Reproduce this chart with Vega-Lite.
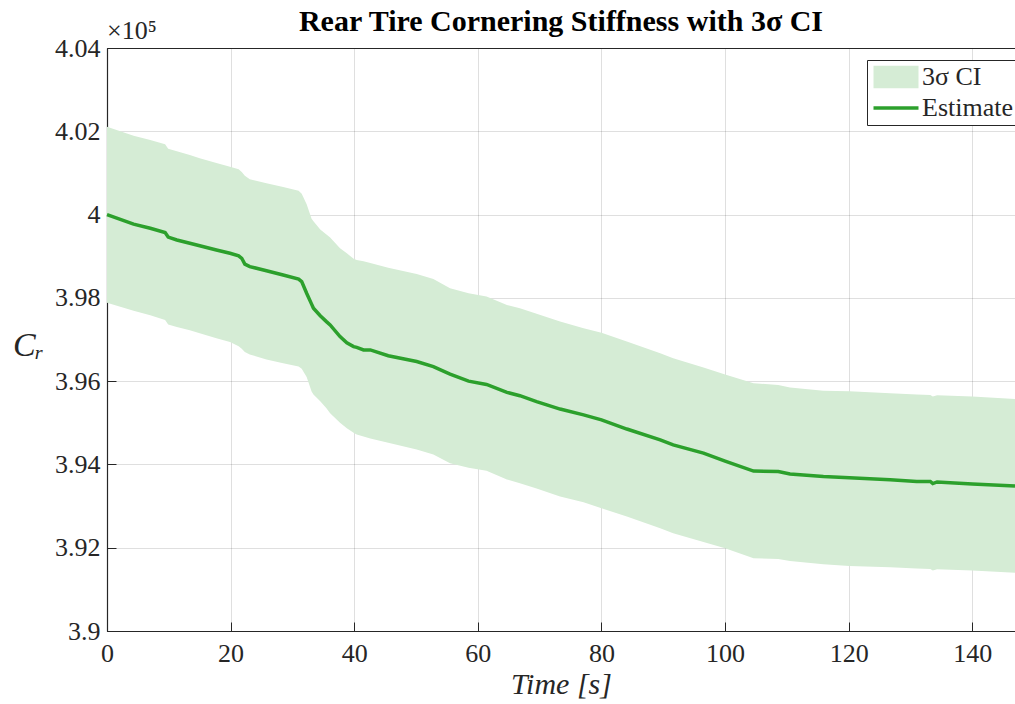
{
  "$schema": "https://vega.github.io/schema/vega-lite/v6.json",
  "width": 908,
  "height": 583,
  "autosize": {"type": "none"},
  "padding": {"left": 107, "top": 48, "right": 0, "bottom": 73},
  "background": "white",
  "config": {
    "font": "Liberation Serif",
    "view": {"stroke": "#262626", "strokeWidth": 1},
    "axis": {
      "domainColor": "#262626",
      "domainWidth": 1.2,
      "tickColor": "#262626",
      "tickSize": -9,
      "tickWidth": 1,
      "gridColor": "#262626",
      "gridOpacity": 0.15,
      "gridWidth": 1,
      "labelColor": "#262626",
      "labelFont": "Liberation Serif",
      "labelFontSize": 26,
      "titleColor": "#262626",
      "titleFont": "Liberation Serif",
      "titleFontWeight": "normal",
      "zindex": 1
    },
    "legend": {
      "labelFont": "Liberation Serif",
      "labelFontSize": 26,
      "labelColor": "#262626",
      "symbolOpacity": 1,
      "symbolStrokeWidth": 0
    }
  },
  "title": {
    "text": "Rear Tire Cornering Stiffness with 3σ CI",
    "font": "Liberation Serif",
    "fontSize": 30,
    "fontWeight": "bold",
    "color": "#000000",
    "anchor": "middle",
    "offset": 8,
    "dy": 27
  },
  "datasets": {
    "series": [
      {"t": 0, "est": 4.0000, "lo": 3.9788, "hi": 4.0211},
      {"t": 4.3, "est": 3.9977, "lo": 3.9769, "hi": 4.0189},
      {"t": 7.0, "est": 3.9967, "lo": 3.9758, "hi": 4.0179},
      {"t": 9.4, "est": 3.9957, "lo": 3.9747, "hi": 4.0169},
      {"t": 9.9, "est": 3.9946, "lo": 3.9736, "hi": 4.0158},
      {"t": 11.3, "est": 3.9939, "lo": 3.9730, "hi": 4.0152},
      {"t": 13.4, "est": 3.9931, "lo": 3.9722, "hi": 4.0143},
      {"t": 15.0, "est": 3.9925, "lo": 3.9715, "hi": 4.0135},
      {"t": 17.7, "est": 3.9915, "lo": 3.9703, "hi": 4.0124},
      {"t": 19.9, "est": 3.9907, "lo": 3.9694, "hi": 4.0115},
      {"t": 21.3, "est": 3.9901, "lo": 3.9684, "hi": 4.0109},
      {"t": 21.8, "est": 3.9895, "lo": 3.9678, "hi": 4.0102},
      {"t": 22.3, "est": 3.9881, "lo": 3.9670, "hi": 4.0093},
      {"t": 23.1, "est": 3.9875, "lo": 3.9664, "hi": 4.0085},
      {"t": 25.8, "est": 3.9865, "lo": 3.9652, "hi": 4.0075},
      {"t": 28.5, "est": 3.9855, "lo": 3.9643, "hi": 4.0066},
      {"t": 31.0, "est": 3.9845, "lo": 3.9635, "hi": 4.0057},
      {"t": 31.5, "est": 3.9839, "lo": 3.9630, "hi": 4.0050},
      {"t": 32.3, "est": 3.9811, "lo": 3.9610, "hi": 4.0025},
      {"t": 33.1, "est": 3.9785, "lo": 3.9575, "hi": 3.9990},
      {"t": 33.4, "est": 3.9775, "lo": 3.9568, "hi": 3.9984},
      {"t": 34.5, "est": 3.9757, "lo": 3.9552, "hi": 3.9964},
      {"t": 35.5, "est": 3.9743, "lo": 3.9535, "hi": 3.9952},
      {"t": 36.1, "est": 3.9735, "lo": 3.9523, "hi": 3.9945},
      {"t": 37.7, "est": 3.9707, "lo": 3.9500, "hi": 3.9919},
      {"t": 38.8, "est": 3.9692, "lo": 3.9487, "hi": 3.9907},
      {"t": 39.9, "est": 3.9683, "lo": 3.9476, "hi": 3.9894},
      {"t": 40.4, "est": 3.9681, "lo": 3.9472, "hi": 3.9891},
      {"t": 41.5, "est": 3.9675, "lo": 3.9467, "hi": 3.9888},
      {"t": 42.6, "est": 3.9675, "lo": 3.9462, "hi": 3.9884},
      {"t": 45.5, "est": 3.9661, "lo": 3.9452, "hi": 3.9872},
      {"t": 50.1, "est": 3.9647, "lo": 3.9436, "hi": 3.9857},
      {"t": 52.8, "est": 3.9635, "lo": 3.9424, "hi": 3.9845},
      {"t": 55.5, "est": 3.9617, "lo": 3.9403, "hi": 3.9823},
      {"t": 58.5, "est": 3.9600, "lo": 3.9392, "hi": 3.9811},
      {"t": 61.4, "est": 3.9592, "lo": 3.9385, "hi": 3.9803},
      {"t": 64.7, "est": 3.9573, "lo": 3.9364, "hi": 3.9783},
      {"t": 66.8, "est": 3.9565, "lo": 3.9355, "hi": 3.9775},
      {"t": 69.5, "est": 3.9551, "lo": 3.9342, "hi": 3.9762},
      {"t": 73.3, "est": 3.9533, "lo": 3.9323, "hi": 3.9743},
      {"t": 77.1, "est": 3.9519, "lo": 3.9309, "hi": 3.9727},
      {"t": 80.0, "est": 3.9507, "lo": 3.9295, "hi": 3.9716},
      {"t": 84.1, "est": 3.9485, "lo": 3.9275, "hi": 3.9695},
      {"t": 89.5, "est": 3.9459, "lo": 3.9247, "hi": 3.9667},
      {"t": 91.6, "est": 3.9447, "lo": 3.9235, "hi": 3.9655},
      {"t": 96.5, "est": 3.9427, "lo": 3.9214, "hi": 3.9633},
      {"t": 100.0, "est": 3.9408, "lo": 3.9199, "hi": 3.9616},
      {"t": 104.6, "est": 3.9384, "lo": 3.9175, "hi": 3.9595},
      {"t": 108.6, "est": 3.9383, "lo": 3.9173, "hi": 3.9591},
      {"t": 110.5, "est": 3.9377, "lo": 3.9168, "hi": 3.9585},
      {"t": 115.9, "est": 3.9371, "lo": 3.9160, "hi": 3.9577},
      {"t": 120.1, "est": 3.9368, "lo": 3.9156, "hi": 3.9576},
      {"t": 126.7, "est": 3.9363, "lo": 3.9153, "hi": 3.9571},
      {"t": 131.0, "est": 3.9359, "lo": 3.9150, "hi": 3.9568},
      {"t": 133.2, "est": 3.9359, "lo": 3.9149, "hi": 3.9567},
      {"t": 133.6, "est": 3.9354, "lo": 3.9145, "hi": 3.9563},
      {"t": 134.3, "est": 3.9358, "lo": 3.9148, "hi": 3.9566},
      {"t": 140.0, "est": 3.9353, "lo": 3.9145, "hi": 3.9563},
      {"t": 146.9, "est": 3.9348, "lo": 3.9140, "hi": 3.9557}
    ],
    "legendRows": [
      {"series": "3σ CI"},
      {"series": "Estimate"}
    ]
  },
  "data": {"name": "series"},
  "encoding": {
    "x": {
      "field": "t",
      "type": "quantitative",
      "scale": {"domain": [0, 146.9], "nice": false, "zero": false},
      "axis": {
        "values": [0, 20, 40, 60, 80, 100, 120, 140],
        "title": "Time [s]",
        "titleFontStyle": "italic",
        "titleFontSize": 30,
        "titlePadding": 3,
        "labelPadding": 18,
        "labelFlush": false
      }
    }
  },
  "layer": [
    {
      "mark": {"type": "area", "opacity": 1},
      "encoding": {
        "y": {
          "field": "lo",
          "type": "quantitative",
          "scale": {"domain": [3.9, 4.04], "nice": false, "zero": false},
          "axis": {
            "values": [3.9, 3.92, 3.94, 3.96, 3.98, 4.0, 4.02, 4.04],
            "format": "~g",
            "title": "Cᵣ",
            "titleAngle": 0,
            "titleFontStyle": "italic",
            "titleFontSize": 34,
            "titleX": -79,
            "titleY": 297,
            "titleAlign": "center",
            "titleBaseline": "middle",
            "labelPadding": 16,
            "labelFlush": false
          }
        },
        "y2": {"field": "hi"},
        "color": {
          "datum": "3σ CI",
          "type": "nominal",
          "scale": {"domain": ["3σ CI", "Estimate"], "range": ["#d5ecd5", "#2ca02c"]}
        }
      }
    },
    {
      "mark": {"type": "line", "strokeWidth": 3.5},
      "encoding": {
        "y": {"field": "est", "type": "quantitative"},
        "color": {"datum": "Estimate", "type": "nominal"}
      }
    },
    {
      "mark": {"type": "text", "align": "left", "baseline": "alphabetic", "dy": -9, "fontSize": 26, "font": "Liberation Serif", "color": "#262626"},
      "data": {"values": [{"t": 0, "v": 4.04, "label": "×10⁵"}]},
      "encoding": {
        "y": {"field": "v", "type": "quantitative"},
        "text": {"field": "label"},
        "color": {"value": "#262626"}
      }
    },
    {
      "data": {"name": "legendRows"},
      "mark": {"type": "point", "filled": true, "opacity": 0},
      "encoding": {
        "color": {
          "field": "series",
          "type": "nominal",
          "legend": {
            "title": null,
            "orient": "none",
            "legendX": 760,
            "legendY": 12,
            "fillColor": "white",
            "strokeColor": "#262626",
            "padding": 4,
            "labelOffset": 13,
            "rowPadding": 5,
            "symbolSize": 506,
            "symbolOffset": 12,
            "symbolStrokeWidth": 0,
            "symbolOpacity": 1
          }
        },
        "shape": {
          "field": "series",
          "type": "nominal",
          "scale": {
            "domain": ["3σ CI", "Estimate"],
            "range": ["M-2,-1H2V1H-2Z", "M-2,-0.15H2V0.15H-2Z"]
          },
          "legend": {
            "title": null,
            "orient": "none",
            "legendX": 760,
            "legendY": 12,
            "fillColor": "white",
            "strokeColor": "#262626",
            "padding": 4,
            "labelOffset": 13,
            "rowPadding": 5,
            "symbolSize": 506,
            "symbolOffset": 12,
            "symbolStrokeWidth": 0,
            "symbolOpacity": 1
          }
        }
      }
    }
  ]
}
